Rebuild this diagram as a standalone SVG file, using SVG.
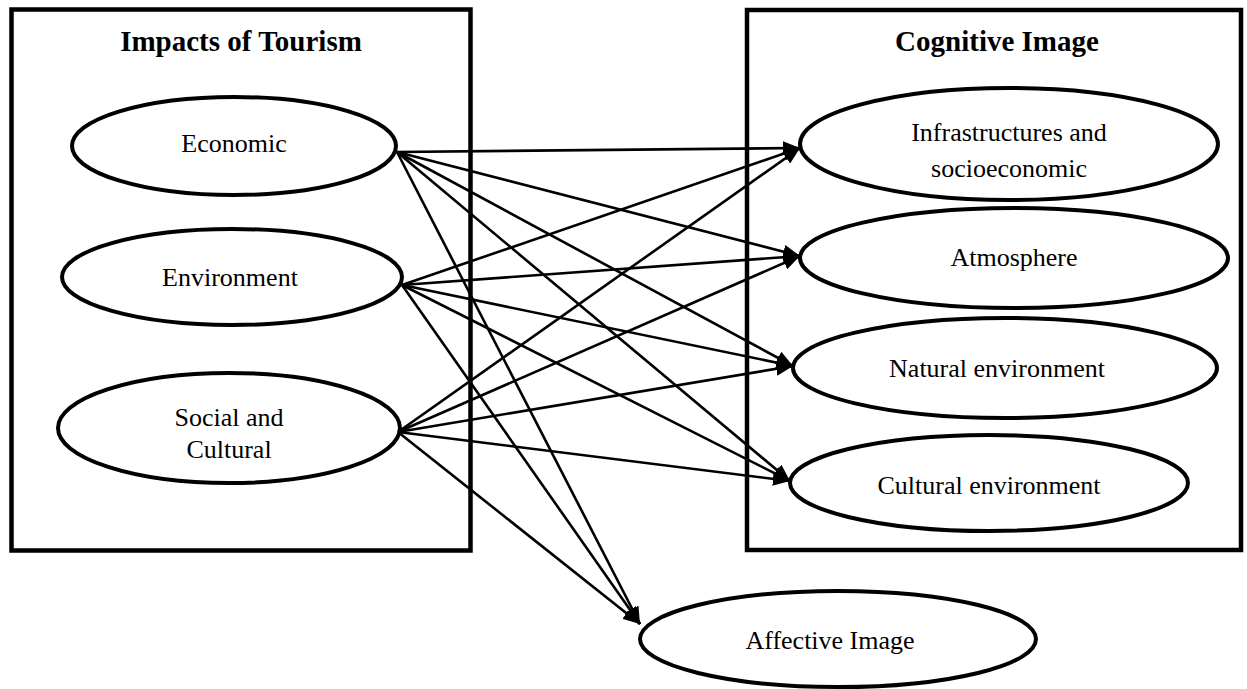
<svg xmlns="http://www.w3.org/2000/svg" width="1247" height="689" viewBox="0 0 1247 689">
<style>
.box{fill:none;stroke:#000;stroke-width:4.5}
.el{fill:#fff;stroke:#000;stroke-width:4}
.t{font-family:"Liberation Serif","Times New Roman",serif;font-size:26px;text-anchor:middle;fill:#000}
.h{font-family:"Liberation Serif","Times New Roman",serif;font-size:29px;font-weight:bold;text-anchor:middle;fill:#000}
.c line{stroke:#000;stroke-width:2.6;marker-end:url(#ah)}
</style>
<defs>
<marker id="ah" markerUnits="userSpaceOnUse" markerWidth="18" markerHeight="14" refX="17" refY="7" orient="auto">
<path d="M0,0 L17,7 L0,14 z" fill="#000"/>
</marker>
</defs>
<rect width="1247" height="689" fill="#fff"/>
<g id="impacts-box">
<rect class="box" x="11.5" y="9.5" width="459" height="541"/>
<text class="h" x="241" y="51">Impacts of Tourism</text>
</g>
<g id="cognitive-box">
<rect class="box" x="747" y="10" width="494" height="540"/>
<text class="h" x="997" y="51">Cognitive Image</text>
</g>
<g id="economic">
<ellipse class="el" cx="234" cy="146" rx="162" ry="49"/>
<text class="t" x="234" y="152">Economic</text>
</g>
<g id="environment">
<ellipse class="el" cx="232" cy="277" rx="170" ry="48"/>
<text class="t" x="230" y="286">Environment</text>
</g>
<g id="social">
<ellipse class="el" cx="229" cy="428" rx="171" ry="55"/>
<text class="t" x="229" y="426">Social and</text>
<text class="t" x="229" y="458">Cultural</text>
</g>
<g id="infrastructures">
<ellipse class="el" cx="1009" cy="144" rx="209" ry="56"/>
<text class="t" x="1009" y="141">Infrastructures and</text>
<text class="t" x="1009" y="177">socioeconomic</text>
</g>
<g id="atmosphere">
<ellipse class="el" cx="1014" cy="258" rx="214" ry="50"/>
<text class="t" x="1014" y="266">Atmosphere</text>
</g>
<g id="natural">
<ellipse class="el" cx="1005" cy="368" rx="212" ry="50"/>
<text class="t" x="997" y="377">Natural environment</text>
</g>
<g id="cultural">
<ellipse class="el" cx="989" cy="483" rx="199" ry="48"/>
<text class="t" x="989" y="494">Cultural environment</text>
</g>
<g id="affective">
<ellipse class="el" cx="838" cy="639" rx="198" ry="48"/>
<text class="t" x="830" y="649">Affective Image</text>
</g>
<g id="connectors" class="c">
<line x1="397" y1="152" x2="800" y2="148"/>
<line x1="397" y1="152" x2="800" y2="256"/>
<line x1="397" y1="152" x2="793" y2="366"/>
<line x1="397" y1="152" x2="790" y2="481"/>
<line x1="397" y1="152" x2="640" y2="624"/>
<line x1="402" y1="285" x2="800" y2="148"/>
<line x1="402" y1="285" x2="800" y2="256"/>
<line x1="402" y1="285" x2="793" y2="366"/>
<line x1="402" y1="285" x2="790" y2="481"/>
<line x1="402" y1="285" x2="640" y2="624"/>
<line x1="398" y1="432" x2="800" y2="148"/>
<line x1="398" y1="432" x2="800" y2="256"/>
<line x1="398" y1="432" x2="793" y2="366"/>
<line x1="398" y1="432" x2="790" y2="481"/>
<line x1="398" y1="432" x2="640" y2="624"/>
</g>
</svg>
